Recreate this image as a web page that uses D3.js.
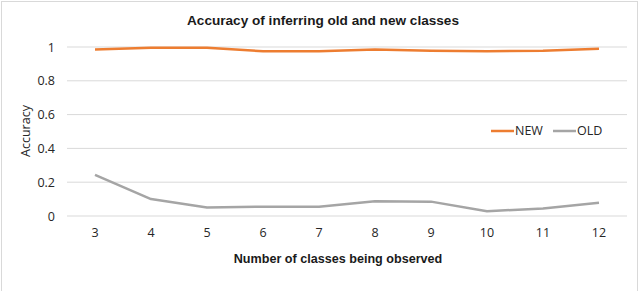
<!DOCTYPE html>
<html>
<head>
<meta charset="utf-8">
<script src="https://cdn.jsdelivr.net/npm/d3@7"></script>
<style>
  body { margin: 0; background: #fff; }
  text { font-family: "Open Sans", "Liberation Sans", sans-serif; }
</style>
</head>
<body>
<script>
// data
var classes = [3, 4, 5, 6, 7, 8, 9, 10, 11, 12];
var newAcc = [0.985, 0.995, 0.995, 0.975, 0.975, 0.985, 0.978, 0.975, 0.978, 0.99];
var oldAcc = [0.243, 0.10, 0.05, 0.055, 0.055, 0.087, 0.085, 0.028, 0.045, 0.078];
var yTicks = [0, 0.2, 0.4, 0.6, 0.8, 1];

var margin = { top: 47, bottom: 75, right: 13, left: 67 };
var width = 640 - margin.left - margin.right;
var height = 291 - margin.top - margin.bottom;

var root = d3.select("body")
    .append("svg")
    .attr("width", 640)
    .attr("height", 291);

// chart area border
root.append("rect")
    .attr("x", 1.5).attr("y", 1.5)
    .attr("width", 636).attr("height", 292)
    .attr("fill", "none")
    .attr("stroke", "#d9d9d9");

var svg = root.append("g")
    .attr("transform", "translate(" + margin.left + "," + margin.top + ")");

var x = d3.scaleBand()
    .domain(classes)
    .range([0, width]);

var y = d3.scaleLinear()
    .domain([0, 1])
    .range([height, 0]);

// gridlines
svg.append("g")
    .selectAll("line")
    .data(yTicks)
    .enter().append("line")
    .attr("x1", 0).attr("x2", width)
    .attr("y1", function (d) { return y(d); })
    .attr("y2", function (d) { return y(d); })
    .attr("stroke", "#d9d9d9")
    .attr("stroke-width", 1);

// y axis
var yAxis = svg.append("g")
    .call(d3.axisLeft(y).tickValues(yTicks).tickSize(0).tickPadding(12)
        .tickFormat(function (d) { return d3.format("")(d); }));
yAxis.select(".domain").remove();
yAxis.selectAll("text").attr("font-size", 12.5).attr("fill", "#262626")
    .style("font-family", "'Open Sans', sans-serif");

// x axis
var xAxis = svg.append("g")
    .attr("transform", "translate(0," + height + ")")
    .call(d3.axisBottom(x).tickSize(0).tickPadding(12));
xAxis.select(".domain").remove();
xAxis.selectAll("text").attr("font-size", 12.5).attr("fill", "#262626")
    .style("font-family", "'Open Sans', sans-serif");

// lines
var line = d3.line()
    .x(function (d, i) { return x(classes[i]) + x.bandwidth() / 2; })
    .y(function (d) { return y(d); });

svg.append("path")
    .datum(oldAcc)
    .attr("fill", "none")
    .attr("stroke", "#a5a5a5")
    .attr("stroke-width", 2.5)
    .attr("stroke-linejoin", "round")
    .attr("d", line);

svg.append("path")
    .datum(newAcc)
    .attr("fill", "none")
    .attr("stroke", "#ed7d31")
    .attr("stroke-width", 2.5)
    .attr("stroke-linejoin", "round")
    .attr("d", line);

// title
root.append("text")
    .attr("x", 323).attr("y", 25)
    .attr("text-anchor", "middle")
    .attr("font-size", 13.6).attr("font-weight", "bold")
    .style("font-family", "'Liberation Sans', Arial, sans-serif")
    .attr("fill", "#1a1a1a")
    .text("Accuracy of inferring old and new classes");

// axis titles
root.append("text")
    .attr("x", 338).attr("y", 263)
    .attr("text-anchor", "middle")
    .attr("font-size", 12.6).attr("font-weight", "bold")
    .style("font-family", "'Liberation Sans', Arial, sans-serif")
    .attr("fill", "#1a1a1a")
    .text("Number of classes being observed");

root.append("text")
    .attr("transform", "translate(30,131) rotate(-90)")
    .attr("text-anchor", "middle")
    .attr("font-size", 12.5)
    .attr("fill", "#262626")
    .text("Accuracy");

// legend
var legendItems = [
    { name: "NEW", color: "#ed7d31", x: 491 },
    { name: "OLD", color: "#a5a5a5", x: 553 }
];
var legend = root.append("g");
legendItems.forEach(function (d) {
    legend.append("line")
        .attr("x1", d.x).attr("x2", d.x + 23)
        .attr("y1", 131).attr("y2", 131)
        .attr("stroke", d.color).attr("stroke-width", 2.5);
    legend.append("text")
        .attr("x", d.x + 24).attr("y", 135)
        .attr("font-size", 12.5).attr("fill", "#262626")
        .text(d.name);
});
</script>
</body>
</html>
